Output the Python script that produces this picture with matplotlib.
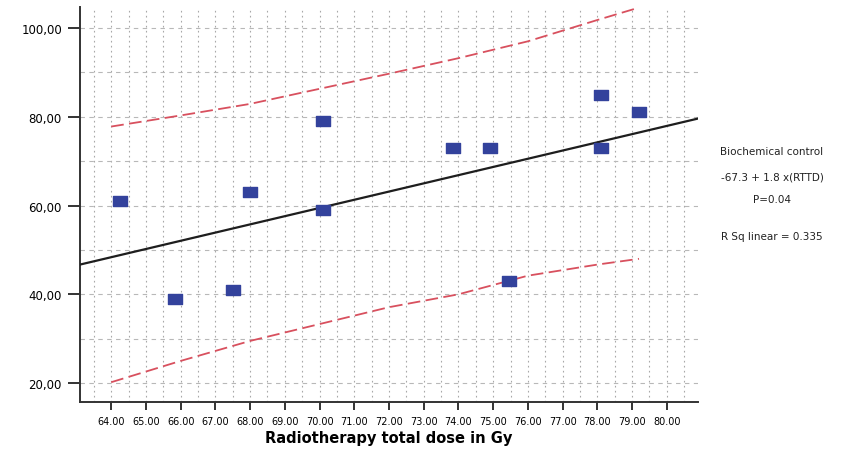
import matplotlib
matplotlib.use("Agg")
import matplotlib.pyplot as plt
from matplotlib.path import Path

# dose (Gy) vs biochemical control (%)
dose = [64.25, 65.85, 67.5, 68.0, 70.1, 70.1, 73.85, 74.9, 75.45, 78.1, 78.1, 79.2]
control = [61, 39, 41, 63, 79, 59, 73, 73, 43, 85, 73, 81]

# fit line, read at the plot edges
fit_x = [63.1, 80.9]
fit_y = [46.7, 79.6]

# prediction band
band_x = [64, 66, 68, 70, 72, 74, 76, 78, 79.2]
band_upper = [77.8, 80.3, 82.9, 86.3, 89.7, 93.2, 97.0, 101.8, 104.6]
band_lower = [20.2, 25.0, 29.5, 33.3, 37.1, 40.0, 44.2, 46.7, 48.0]

xticks = list(range(64, 81))
yticks = [20, 40, 60, 80, 100]
note_lines = ["Biochemical control", "-67.3 + 1.8 x(RTTD)", "P=0.04", "R Sq linear = 0.335"]

plt.rcParams['font.family'] = ['DejaVu Sans']

fig = plt.figure(figsize=(8.42, 4.52), dpi=100)
ax = fig.add_axes([0.095, 0.108, 0.734, 0.874])
ax.set_xlim(63.1, 80.9)
ax.set_ylim(15.7, 104.7)

# grid: dotted verticals every 0.5, dashed horizontals every 10
for gx in [63.5 + 0.5 * i for i in range(35)]:
    ax.axvline(gx, color='#a8a8a8', lw=0.8, ls=(0, (1.5, 3)), zorder=1)
for gy in range(20, 101, 10):
    ax.axhline(gy, color='#b8b8b8', lw=0.8, ls=(0, (4, 4)), zorder=1)

ax.plot(band_x, band_upper, color='#d8505e', lw=1.3, ls=(0, (7, 3)), zorder=2)
ax.plot(band_x, band_lower, color='#d8505e', lw=1.3, ls=(0, (7, 3)), zorder=2)
ax.plot(fit_x, fit_y, color='#1e1e1e', lw=1.6, zorder=3)

rect = Path([(-1, -0.75), (1, -0.75), (1, 0.75), (-1, 0.75), (-1, -0.75)],
            [Path.MOVETO, Path.LINETO, Path.LINETO, Path.LINETO, Path.CLOSEPOLY])
ax.plot(dose, control, ls='none', marker=rect, markersize=9.5,
        color='#33429c', markeredgecolor='#33429c', zorder=4)

ax.spines['top'].set_visible(False)
ax.spines['right'].set_visible(False)
ax.spines['left'].set_linewidth(1.4)
ax.spines['bottom'].set_linewidth(1.4)
ax.spines['left'].set_color('#333333')
ax.spines['bottom'].set_color('#333333')

ax.set_xticks(xticks)
ax.set_xticklabels(["%.2f" % v for v in xticks], fontsize=7)
ax.set_yticks(yticks)
ax.set_yticklabels([("%.2f" % v).replace('.', ',') for v in yticks], fontsize=8.5)
ax.tick_params(axis='x', length=6, width=1.4, pad=4, color='#333333')
ax.tick_params(axis='y', length=9, width=1.4, pad=4, color='#333333')

ax.set_xlabel("Radiotherapy total dose in Gy", fontsize=10.5, fontweight='bold', labelpad=3)

for txt, yp in zip(note_lines, [152, 177, 200, 237]):
    fig.text(772 / 842, 1 - yp / 452, txt, ha='center', va='center', fontsize=7.5, color='#222222')

fig.savefig("out.png", dpi=100)
